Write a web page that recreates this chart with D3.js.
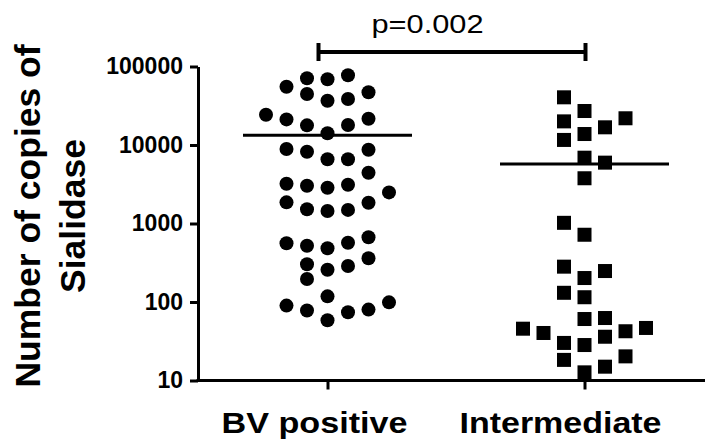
<!DOCTYPE html>
<html>
<head>
<meta charset="utf-8">
<script src="https://cdn.jsdelivr.net/npm/d3@7"></script>
<style>
  body { margin: 0; background: #fff; }
  svg { display: block; font-family: 'Liberation Sans', Arial, sans-serif; }
</style>
</head>
<body>
<svg width="705" height="444"></svg>
<script>
// groups on the x axis
var categories = ['BV positive', 'Intermediate']

// copies of sialidase (log scale)
var bvValues = [55300, 70800, 68700, 77300, 44700, 36600, 38500, 46900,
  24300, 21200, 17800, 14100, 18000, 21600,
  8890, 8220, 6580, 6580, 8710, 4440,
  3210, 3030, 2860, 3120, 2490,
  1860, 1520, 1440, 1490, 1840,
  560, 521, 483, 569, 667,
  302, 258, 288, 361, 196,
  118, 90, 78, 58.5, 74, 80, 99]
// swarm column of each point (as arranged in the picture)
var bvCols = [-2, -1, 0, 1, -1, 0, 1, 2,
  -3, -2, -1, 0, 1, 2,
  -2, -1, 0, 1, 2, 2,
  -2, -1, 0, 1, 3,
  -2, -1, 0, 1, 2,
  -2, -1, 0, 1, 2,
  -1, 0, 1, 2, -1,
  0, -2, -1, 0, 1, 2, 3]

var intValues = [40500, 27100, 21900, 20000, 16800, 13800, 11600,
  6890, 5960, 3770,
  1020, 719,
  282, 248, 202, 131, 115,
  60.7, 62.5, 45.7, 40.3, 30.1, 28.3, 36.1, 42.4, 46.7,
  18.3, 12.7, 15.0, 20.3]
var intCols = [-1, 0, 2, -1, 1, 0, -1,
  0, 1, 0,
  -1, 0,
  -1, 1, 0, -1, 0,
  0, 1, -3, -2, -1, 0, 1, 2, 3,
  -1, 0, 1, 2]

var yTicks = [10, 100, 1000, 10000, 100000]
var pLabel = 'p=0.002'
var yTitle = ['Number of copies of', 'Sialidase']

var svg = d3.select('svg')

var x = d3.scalePoint().domain(categories).range([327.5, 584.5])
var col = d3.scaleLinear().domain([0, 1]).range([0, 20.5])
var y = d3.scaleLog().domain([10, 100000]).range([380.5, 66.5])

// y axis
var yAxis = svg.append('g')
  .attr('transform', 'translate(198,0)')
  .call(d3.axisLeft(y).tickValues(yTicks).tickFormat(d3.format('d'))
    .tickSize(8).tickSizeOuter(0).tickPadding(7))
yAxis.select('.domain').attr('stroke-width', 3)
yAxis.selectAll('.tick line').attr('stroke-width', 3)
yAxis.selectAll('.tick text')
  .attr('font-size', 23).attr('font-weight', 'bold').attr('fill', '#000')
  .attr('font-family', "'Liberation Sans', Arial, sans-serif")

// x axis
svg.append('line')
  .attr('x1', 196.5).attr('x2', 705)
  .attr('y1', y(10)).attr('y2', y(10))
  .attr('stroke', '#000').attr('stroke-width', 3)
var xAxis = svg.append('g')
  .attr('transform', 'translate(0,' + y(10) + ')')
  .call(d3.axisBottom(x).tickSize(9).tickSizeOuter(0).tickFormat(''))
xAxis.select('.domain').remove()
xAxis.selectAll('.tick line').attr('stroke-width', 3)

var labelShift = [-13, -24]
var labelWidth = [186, 202]
svg.selectAll('.xlab').data(categories).enter().append('text')
  .attr('class', 'xlab')
  .attr('x', function(d, i) { return x(d) + labelShift[i] - labelWidth[i] / 2 })
  .attr('y', 433)
  .attr('font-size', 30).attr('font-weight', 'bold')
  .attr('textLength', function(d, i) { return labelWidth[i] })
  .attr('lengthAdjust', 'spacingAndGlyphs')
  .text(function(d) { return d })

// y title
svg.append('g')
  .attr('transform', 'translate(0,216) rotate(-90)')
  .selectAll('text').data(yTitle).enter().append('text')
  .attr('x', 0)
  .attr('y', function(d, i) { return 40 + i * 45 })
  .attr('text-anchor', 'middle')
  .attr('font-size', 35.5).attr('font-weight', 'bold')
  .text(function(d) { return d })

// points
var bv = bvValues.map(function(v, i) { return { v: v, c: bvCols[i] } })
var im = intValues.map(function(v, i) { return { v: v, c: intCols[i] } })

svg.append('g').selectAll('circle').data(bv).enter().append('circle')
  .attr('cx', function(d) { return x(categories[0]) + col(d.c) })
  .attr('cy', function(d) { return y(d.v) })
  .attr('r', 7)
  .attr('fill', '#000')

svg.append('g').selectAll('rect').data(im).enter().append('rect')
  .attr('x', function(d) { return x(categories[1]) + col(d.c) - 7 })
  .attr('y', function(d) { return y(d.v) - 7 })
  .attr('width', 14).attr('height', 14)
  .attr('fill', '#000')

// mean lines
var means = [d3.mean(bvValues), d3.mean(intValues)]
svg.append('g').selectAll('line').data(categories).enter().append('line')
  .attr('x1', function(d) { return x(d) - 84.5 })
  .attr('x2', function(d) { return x(d) + 84.5 })
  .attr('y1', function(d, i) { return y(means[i]) })
  .attr('y2', function(d, i) { return y(means[i]) })
  .attr('stroke', '#000').attr('stroke-width', 3)

// significance bracket
var bx1 = x(categories[0]) - 9
var bx2 = x(categories[1]) + 1
var br = svg.append('g').attr('stroke', '#000').attr('stroke-width', 4)
br.append('line').attr('x1', bx1).attr('x2', bx2).attr('y1', 52).attr('y2', 52)
br.append('line').attr('x1', bx1).attr('x2', bx1).attr('y1', 43).attr('y2', 61)
br.append('line').attr('x1', bx2).attr('x2', bx2).attr('y1', 43).attr('y2', 61)

svg.append('text')
  .attr('x', 371.5).attr('y', 33)
  .attr('font-size', 25.5)
  .attr('textLength', 112)
  .attr('lengthAdjust', 'spacingAndGlyphs')
  .text(pLabel)
</script>
</body>
</html>
